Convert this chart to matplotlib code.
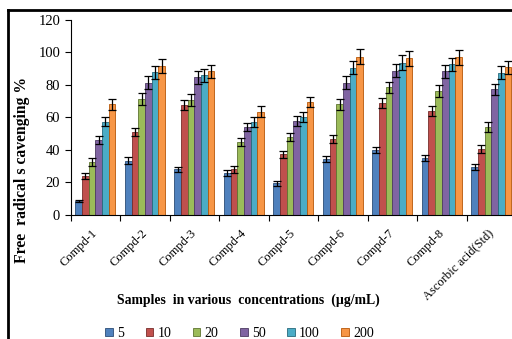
import matplotlib
matplotlib.use("Agg")
import matplotlib.pyplot as plt
import numpy as np
from matplotlib.lines import Line2D

samples = ["Compd-1", "Compd-2", "Compd-3", "Compd-4", "Compd-5",
           "Compd-6", "Compd-7", "Compd-8", "Ascorbic acid(Std)"]
concentrations = ["5", "10", "20", "50", "100", "200"]

conc_5 = [8.5, 33.4, 28.0, 26.0, 19.5, 34.3, 40.0, 34.9, 29.7]
conc_10 = [24.0, 51.0, 67.7, 28.0, 37.3, 46.6, 69.1, 64.2, 40.4]
conc_20 = [32.5, 71.4, 70.8, 44.7, 48.2, 68.0, 78.6, 76.3, 54.3]
conc_50 = [46.0, 81.4, 84.7, 54.3, 57.8, 81.4, 88.8, 88.6, 77.3]
conc_100 = [57.5, 87.8, 86.0, 57.4, 60.5, 90.7, 93.7, 92.7, 87.6]
conc_200 = [68.0, 91.7, 88.6, 63.6, 69.3, 97.4, 96.4, 97.0, 91.0]

err_5 = [0.5, 2.0, 1.8, 1.8, 1.5, 2.0, 2.0, 2.0, 1.8]
err_10 = [2.0, 2.5, 3.0, 2.0, 2.0, 2.5, 3.0, 3.0, 2.5]
err_20 = [2.5, 3.5, 3.5, 2.5, 2.5, 3.5, 3.5, 3.5, 3.0]
err_50 = [2.5, 4.0, 4.0, 2.5, 3.0, 4.0, 4.0, 4.0, 3.5]
err_100 = [3.0, 4.0, 4.0, 3.0, 3.0, 4.0, 4.5, 4.0, 4.0]
err_200 = [3.5, 4.5, 4.0, 3.5, 3.0, 4.5, 4.5, 4.5, 4.0]

values = [conc_5, conc_10, conc_20, conc_50, conc_100, conc_200]
errors = [err_5, err_10, err_20, err_50, err_100, err_200]
colors = ["#4F81BD", "#C0504D", "#9BBB59", "#8064A2", "#4BACC6", "#F79646"]
edges = ["#2C4D75", "#772C2A", "#5F7530", "#4D3B62", "#276A7C", "#B65708"]

plt.rcParams["font.family"] = ["Liberation Serif", "DejaVu Serif"]

fig = plt.figure(figsize=(5.12, 3.39), dpi=100)
ax = fig.add_axes([0.138, 0.366, 0.870, 0.575])

x = np.arange(len(samples))
w = 0.81 / len(concentrations)
for j, (vals, errs) in enumerate(zip(values, errors)):
    pos = x + (j - 2.5) * w
    ax.bar(pos, vals, width=w, color=colors[j], edgecolor=edges[j],
           linewidth=0.6, label=concentrations[j], zorder=2)
    ax.errorbar(pos, vals, yerr=errs, fmt="none", ecolor="black",
                elinewidth=0.9, capsize=2.6, capthick=0.9, zorder=3)

ax.set_xlim(-0.5, len(samples) - 0.5)
ax.set_ylim(0, 120)
ax.set_yticks(range(0, 121, 20))
ax.tick_params(axis="y", labelsize=10.5, direction="out", length=4, width=0.8)
ax.set_xticks(np.arange(-0.5, len(samples), 1.0))
ax.set_xticklabels([])
ax.set_xticks(x - 0.08, minor=True)
ax.set_xticklabels(samples, minor=True, rotation=45, ha="right",
                   rotation_mode="anchor", fontsize=9)
ax.tick_params(axis="x", which="major", direction="out", length=4, width=0.8)
ax.tick_params(axis="x", which="minor", length=0, pad=9)
for side in ["top", "right"]:
    ax.spines[side].set_visible(False)
ax.spines["left"].set_linewidth(0.8)
ax.spines["bottom"].set_linewidth(0.8)

fig.text(22 / 512, 0.50, "Free  radical s cavenging %", rotation=90,
         ha="center", va="center", fontsize=11.3, fontweight="bold")
fig.text(248 / 512, 0.115, "Samples  in various  concentrations  (\u00b5g/mL)",
         ha="center", va="center", fontsize=9.9, fontweight="bold")

handles = [plt.Rectangle((0, 0), 1, 1, facecolor=c, edgecolor=e, linewidth=0.6)
           for c, e in zip(colors, edges)]
fig.legend(handles, concentrations, loc="center", bbox_to_anchor=(0.468, 0.016),
           ncol=6, frameon=False, fontsize=10, handlelength=0.55,
           handleheight=0.55, handletextpad=0.3, columnspacing=1.55)

fig.add_artist(Line2D([8 / 512, 1.0], [1 - 10 / 339, 1 - 10 / 339],
                      color="black", linewidth=2))
fig.add_artist(Line2D([8 / 512, 8 / 512], [0, 1 - 10 / 339],
                      color="black", linewidth=2))

fig.savefig("out.png", dpi=100)
